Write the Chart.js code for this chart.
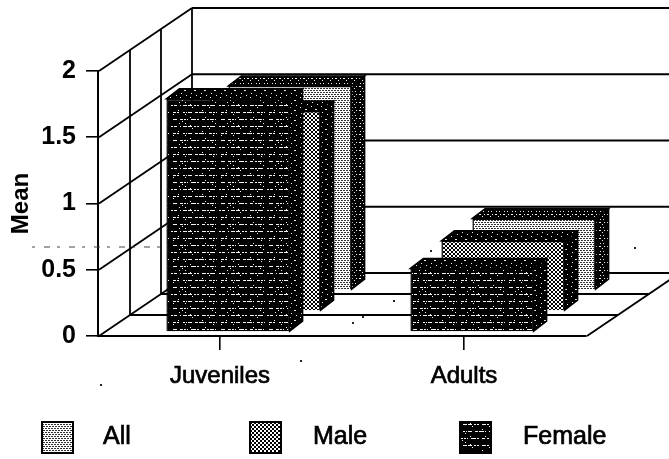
<!DOCTYPE html>
<html><head><meta charset="utf-8">
<style>html,body{margin:0;padding:0;background:#fff}#w{position:absolute;left:0;top:0;width:669px;height:459px}</style>
<script src="https://cdn.jsdelivr.net/npm/chart.js@4"></script>
</head><body><div id="w"><canvas id="c" width="669" height="459"></canvas></div>
<script>
const categories = ['Juveniles', 'Adults'];
const seriesNames = ['All', 'Male', 'Female'];
const allValues = [1.54, 0.54];
const maleValues = [1.51, 0.53];
const femaleValues = [1.76, 0.48];
const yTickLabels = ['0', '0.5', '1', '1.5', '2'];

function tile(rows, fg, bg) {
  const t = document.createElement('canvas');
  t.width = rows[0].length; t.height = rows.length;
  const g = t.getContext('2d');
  g.fillStyle = bg; g.fillRect(0, 0, t.width, t.height);
  g.fillStyle = fg;
  rows.forEach((r, y) => [...r].forEach((ch, x) => { if (ch === '#') g.fillRect(x, y, 1, 1); }));
  return g.createPattern(t, 'repeat');
}
const allFill = tile(['##.##.##.','.........','.##.##.##','.........'], '#333', '#fff');
const maleFill = tile(['##..##..','##..##..','..##..##','..##..##'], '#000', '#fff');
const femaleFill = tile([
 '................................................',
 '...............#...........#.....#..............',
 '................................................',
 '......................................#.........',
 '..####.##.#####....##.###...#..####.####..##.##.',
 '................................................',
 '.........#..............................#.......',
 '................................................',
 '................................................',
 '..#.......................#.....................',
 '................................................',
 '####.#...###.##.#....###.##....##.#.####...###.#',
 '................................................',
 '.............#.......#...........#..............',
 '................................................',
 '................................................',
 '.....#................................#.........',
 '................................................',
 '..###..##.####.#.....####...###.##.#...#####.##.',
 '................................................',
 '............#.................#.................'], '#f4f4f4', '#000');
const sideFill = tile(['..........','..#.......','..........','..........','......##..','..........','..........','...#......','..........','........#.'], '#eee', '#000');
const allSide = tile(['........','..#..#..','........','........','.##...#.','........','....#...','........'], '#eee', '#000');
const sides = [allSide, sideFill, sideFill];

const slotX = 31, slotY = 21;      // one depth slot per series
const nudgeX = 8, nudgeY = 4;      // front margin inside a slot
const barDX = 13, barDY = 10;      // depth of a bar
const slots = seriesNames.length;

function line(c, x1, y1, x2, y2) { c.beginPath(); c.moveTo(x1, y1); c.lineTo(x2, y2); c.stroke(); }

const walls = {
  id: 'walls',
  beforeDatasetsDraw(chart) {
    const c = chart.ctx, y = chart.scales.y, x = chart.scales.x;
    const L = y.left + y.width + 1, R = x.right + 1, B = y.getPixelForValue(0);
    c.save();
    c.strokeStyle = '#000'; c.lineWidth = 1.8;
    for (const v of y.ticks.map(t => t.value)) {
      const p = y.getPixelForValue(v);
      line(c, L, p, L + slots * slotX, p - slots * slotY);
      line(c, L + slots * slotX, p - slots * slotY, chart.width, p - slots * slotY);
    }
    const T = y.getPixelForValue(2);
    for (let k = 1; k <= slots; k++) {
      line(c, L + k * slotX, T - k * slotY, L + k * slotX, B - k * slotY);
      line(c, L + k * slotX, B - k * slotY, R + k * slotX, B - k * slotY);
    }
    line(c, R, B, R + slots * slotX, B - slots * slotY);
    // scan artefacts
    c.lineWidth = 1; c.strokeStyle = '#444'; c.setLineDash([3, 9, 6, 7]);
    line(c, 32, 247, 160, 247);
    c.setLineDash([]);
    c.fillStyle = '#222';
    [[352, 322], [362, 316], [393, 300], [300, 360], [100, 384], [430, 250], [634, 247], [598, 248]].forEach(p => c.fillRect(p[0], p[1], 2, 2));
    c.restore();
  },
  beforeDatasetDraw(chart, args) {
    const c = chart.ctx, i = args.index, k = slots - 1 - i;
    c.save();
    c.translate(nudgeX + k * slotX, -nudgeY - k * slotY);
    c.strokeStyle = '#000'; c.lineWidth = 1.5;
    for (const b of args.meta.data) {
      const l = b.x - b.width / 2, r = b.x + b.width / 2, t = b.y, bt = b.base;
      c.fillStyle = sides[i];
      c.beginPath();
      c.moveTo(r, t); c.lineTo(r + barDX, t - barDY); c.lineTo(r + barDX, bt - barDY); c.lineTo(r, bt); c.closePath();
      c.fill(); c.stroke();
      c.beginPath();
      c.moveTo(l, t); c.lineTo(l + barDX, t - barDY); c.lineTo(r + barDX, t - barDY); c.lineTo(r, t); c.closePath();
      c.fill(); c.stroke();
    }
  },
  afterDatasetDraw(chart) { chart.ctx.restore(); },
  afterDraw(chart) {
    const c = chart.ctx;
    const keyX = [42, 250, 460], textX = [103, 313, 523];
    c.save();
    c.font = '25px "Liberation Sans"'; c.textBaseline = 'middle'; c.textAlign = 'left';
    chart.data.datasets.forEach((d, i) => {
      c.fillStyle = d.backgroundColor; c.fillRect(keyX[i], 422, 31, 31);
      c.strokeStyle = '#000'; c.lineWidth = 2; c.strokeRect(keyX[i], 422, 31, 31);
      c.fillStyle = '#000'; c.strokeStyle = '#000'; c.lineWidth = 0.7;
      c.fillText(d.label, textX[i], 437); c.strokeText(d.label, textX[i], 437);
    });
    c.restore();
  }
};

new Chart(document.getElementById('c'), {
  type: 'bar',
  data: {
    labels: categories,
    datasets: [
      { label: seriesNames[0], data: allValues, backgroundColor: allFill, order: 3 },
      { label: seriesNames[1], data: maleValues, backgroundColor: maleFill, order: 2 },
      { label: seriesNames[2], data: femaleValues, backgroundColor: femaleFill, order: 1 }
    ].map(d => Object.assign(d, { borderColor: '#000', borderWidth: 1.5, clip: false, barPercentage: 0.505, categoryPercentage: 1 }))
  },
  options: {
    responsive: false, animation: false, devicePixelRatio: 1,
    layout: { padding: { top: 71, right: 83, left: 0, bottom: 0 } },
    plugins: { legend: { display: false }, tooltip: { enabled: false }, title: { display: false } },
    scales: {
      x: {
        stacked: true,
        afterFit(s) { s.height = 123; },
        grid: { offset: false, drawOnChartArea: false, drawTicks: true, tickLength: 14, color: '#000', lineWidth: 1.6 },
        border: { display: true, color: '#000', width: 2 },
        ticks: { color: '#000', padding: 12, maxRotation: 0, autoSkip: false, textStrokeColor: '#000', textStrokeWidth: 0.7, font: { family: '"Liberation Sans"', size: 24 } }
      },
      y: {
        min: 0, max: 2,
        afterFit(s) { s.width = 98; },
        grid: { drawOnChartArea: false, drawTicks: true, tickLength: 12, color: '#000', lineWidth: 1.6 },
        border: { display: true, color: '#000', width: 2 },
        ticks: { color: '#000', stepSize: 0.5, padding: 10, callback: (v, i) => yTickLabels[i], font: { family: '"Liberation Sans"', size: 25, weight: 'bold' } },
        title: { display: true, text: 'Mean', color: '#000', padding: { top: 7, bottom: 0 }, font: { family: '"Liberation Sans"', size: 24, weight: 'bold' } }
      }
    }
  },
  plugins: [walls]
});
</script></body></html>
